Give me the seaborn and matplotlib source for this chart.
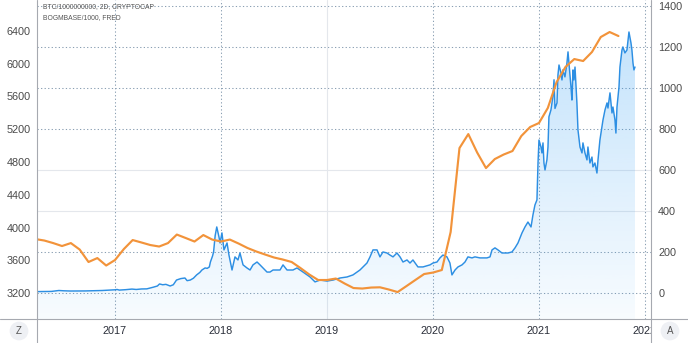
import numpy as np
import matplotlib
matplotlib.use("Agg")
import matplotlib.pyplot as plt
import seaborn as sns
from matplotlib.lines import Line2D
from matplotlib.transforms import Bbox, TransformedBbox, blended_transform_factory

sns.set_theme(style="white")
plt.rcParams["font.family"] = ["Liberation Sans", "DejaVu Sans"]

# ---------------------------------------------------------------------------
# Data
# ---------------------------------------------------------------------------
# FRED monetary base (BOGMBASE / 1000, billions USD), monthly from April 2016
base_first_year = 2016.25
base_values = [
    3859, 3841, 3810, 3774, 3810, 3731, 3579, 3627, 3536, 3603, 3737, 3847,
    3817, 3786, 3768, 3810, 3914, 3872, 3829, 3908, 3853, 3829, 3853, 3804,
    3750, 3707, 3670, 3634, 3609, 3579, 3505, 3426, 3359, 3359, 3377, 3316,
    3261, 3255, 3267, 3270, 3243, 3212, 3285, 3359, 3432, 3450, 3481, 3945,
    4970, 5141, 4916, 4726, 4836, 4891, 4934, 5117, 5227, 5276, 5459, 5777,
    5960, 6057, 6033, 6143, 6326, 6387, 6338,
]

# Bitcoin market cap (CRYPTOCAP / 1e9, billions USD), sampled as decimal years
btc_year = [
    2016.264, 2016.33, 2016.40, 2016.45, 2016.47, 2016.52, 2016.58, 2016.65,
    2016.72, 2016.80, 2016.88, 2016.95, 2017.00, 2017.02, 2017.04, 2017.10,
    2017.16, 2017.20, 2017.25, 2017.30, 2017.36, 2017.40, 2017.42, 2017.45,
    2017.48, 2017.52, 2017.55, 2017.58, 2017.62, 2017.66, 2017.68, 2017.71,
    2017.74, 2017.77, 2017.80, 2017.82, 2017.85, 2017.87, 2017.89, 2017.90,
    2017.92, 2017.93, 2017.945, 2017.96, 2017.981, 2017.991, 2018.009, 2018.028,
    2018.057, 2018.075, 2018.104, 2018.132, 2018.160, 2018.179, 2018.208, 2018.245,
    2018.274, 2018.302, 2018.340, 2018.368, 2018.396, 2018.434, 2018.462, 2018.491,
    2018.557, 2018.585, 2018.623, 2018.679, 2018.717, 2018.774, 2018.840, 2018.887,
    2018.934, 2019.000, 2019.057, 2019.123, 2019.189, 2019.245, 2019.311, 2019.377,
    2019.406, 2019.434, 2019.472, 2019.500, 2019.528, 2019.566, 2019.594, 2019.623,
    2019.660, 2019.689, 2019.717, 2019.755, 2019.783, 2019.811, 2019.858, 2019.906,
    2019.972, 2020.000, 2020.038, 2020.066, 2020.094, 2020.132, 2020.160, 2020.179,
    2020.208, 2020.236, 2020.274, 2020.302, 2020.330, 2020.368, 2020.396, 2020.443,
    2020.509, 2020.538, 2020.557, 2020.585, 2020.613, 2020.651, 2020.679, 2020.708,
    2020.745, 2020.774, 2020.802, 2020.840, 2020.868, 2020.896, 2020.925, 2020.943,
    2020.962, 2020.981, 2020.991, 2021.000, 2021.019, 2021.028, 2021.038, 2021.047,
    2021.057, 2021.075, 2021.085, 2021.094, 2021.113, 2021.132, 2021.142, 2021.151,
    2021.170, 2021.179, 2021.189, 2021.208, 2021.217, 2021.226, 2021.245, 2021.264,
    2021.274, 2021.283, 2021.302, 2021.311, 2021.321, 2021.330, 2021.340, 2021.358,
    2021.368, 2021.387, 2021.406, 2021.415, 2021.434, 2021.453, 2021.462, 2021.481,
    2021.500, 2021.509, 2021.528, 2021.547, 2021.557, 2021.575, 2021.594, 2021.604,
    2021.623, 2021.642, 2021.651, 2021.670, 2021.689, 2021.698, 2021.717, 2021.726,
    2021.736, 2021.755, 2021.764, 2021.783, 2021.792, 2021.811, 2021.830, 2021.840,
    2021.849, 2021.868, 2021.877, 2021.887, 2021.896, 2021.906,
]
btc_cap = [
    6.6, 6.8, 7.5, 10.5, 12.0, 10.5, 9.5, 9.8,
    9.9, 11.0, 12.0, 14.0, 15.5, 17.0, 14.0, 16.0,
    19.0, 17.0, 19.5, 20.0, 28, 34, 44, 40,
    42, 34, 40, 63, 70, 73, 60, 63,
    72, 88, 100, 112, 122, 120, 127, 151,
    180, 200, 280, 322, 273, 244, 293, 210,
    244, 185, 112, 176, 161, 195, 137, 122,
    112, 137, 151, 137, 122, 102, 102, 112,
    112, 137, 112, 112, 122, 102, 78, 54,
    63, 58, 63, 73, 78, 88, 112, 146,
    176, 210, 210, 176, 200, 195, 185, 176,
    195, 176, 151, 161, 146, 161, 127, 127,
    137, 146, 151, 171, 185, 176, 146, 88,
    112, 127, 137, 151, 176, 171, 176, 171,
    171, 176, 210, 220, 210, 195, 195, 195,
    200, 220, 244, 293, 322, 346, 322, 380,
    429, 454, 634, 746, 712, 683, 732, 634,
    600, 649, 712, 859, 893, 960, 1040, 900,
    927, 1063, 1112, 1073, 1039, 1088, 1054, 1122,
    1176, 1122, 1005, 941, 1088, 1039, 1102, 927,
    795, 712, 683, 732, 683, 649, 712, 634,
    663, 615, 634, 585, 649, 746, 810, 844,
    893, 927, 902, 976, 878, 907, 844, 780,
    907, 1005, 1102, 1185, 1200, 1171, 1185, 1234,
    1273, 1220, 1185, 1122, 1088, 1102,
]

left_ticks = [3200, 3600, 4000, 4400, 4800, 5200, 5600, 6000, 6400]
right_ticks = [0, 200, 400, 600, 800, 1000, 1200, 1400]
year_ticks = [2017, 2018, 2019, 2020, 2021, 2022]
series_labels = ["BTC/1000000000, 2D, CRYPTOCAP", "BOGMBASE/1000, FRED"]

base_year = base_first_year + np.arange(len(base_values)) / 12.0

# ---------------------------------------------------------------------------
# Figure layout: price scales on both sides, time scale underneath
# ---------------------------------------------------------------------------
W, H = 688, 343
fig = plt.figure(figsize=(W / 100, H / 100), dpi=100)
fig.patch.set_facecolor("white")

pane_l, pane_r, pane_b = 37, 651, 24          # pixels
ax = fig.add_axes([pane_l / W, pane_b / H, (pane_r - pane_l) / W, 1 - pane_b / H])
ax2 = ax.twinx()

x_min, x_max = 2016.264, 2022.057
btc_lo, btc_hi = -127, 1429
base_lo, base_hi = 2883, 6778

BLUE = "#2d8fe3"
ORANGE = "#f2933a"
TEXT = "#4a4a4a"

# grid: dotted for most levels, faint solid for a few
dotted = dict(color="#8a9fb3", lw=0.75, ls=(0, (1.2, 2.2)), zorder=0.5)
faint = dict(color="#e4e7ec", lw=0.8, ls="-", zorder=0.5)
for v in right_ticks:
    ax.axhline(v, **(faint if v in (400, 600) else dotted))
for yr in year_ticks:
    ax.axvline(yr, **(faint if yr == 2019 else dotted))

# BTC area with a vertical gradient fill
poly = ax.fill_between(btc_year, btc_cap, btc_lo, color="none", lw=0)
alpha = np.linspace(0.035, 0.27, 256)
grad = np.zeros((256, 1, 4))
grad[..., 0] = 33 / 255
grad[..., 1] = 150 / 255
grad[..., 2] = 243 / 255
grad[..., 3] = alpha[:, None]
img = ax.imshow(grad, extent=[x_min, x_max, btc_lo, 1290], origin="lower",
                aspect="auto", interpolation="bicubic", zorder=1)
img.set_clip_path(poly.get_paths()[0], ax.transData)

sns.lineplot(x=btc_year, y=btc_cap, ax=ax, color=BLUE, lw=1.05,
             estimator=None, sort=False, zorder=3)
sns.lineplot(x=base_year, y=base_values, ax=ax2, color=ORANGE, lw=1.55,
             estimator=None, sort=False, zorder=3)

ax.set_xlim(x_min, x_max)
ax.set_ylim(btc_lo, btc_hi)
ax2.set_ylim(base_lo, base_hi)

# BTC scale on the right, monetary base scale on the left
ax.yaxis.tick_right()
ax.set_yticks(right_ticks)
ax.set_yticklabels([str(v) for v in right_ticks])
ax.tick_params(axis="y", length=0, pad=5.2, labelsize=7.8, labelcolor=TEXT)
ax2.yaxis.tick_left()
ax2.set_yticks(left_ticks)
ax2.set_yticklabels([str(v) for v in left_ticks])
ax2.tick_params(axis="y", length=0, pad=4.4, labelsize=7.8, labelcolor=TEXT)
ax.set_xticks([])
for a in (ax, ax2):
    a.set_xlabel("")
    a.set_ylabel("")
    for s in a.spines.values():
        s.set_visible(False)
    a.grid(False)

# year labels along the time scale, cut off where the right scale begins
clip = TransformedBbox(Bbox.from_extents(0, 0, pane_r / W, 1), fig.transFigure)
tr = blended_transform_factory(ax.transData, ax.transAxes)
for yr in year_ticks:
    t = ax.text(yr, -12 / (H - pane_b), str(yr), transform=tr, ha="center",
                va="center", fontsize=7.8, color="#2a2e39", clip_on=True)
    t.set_clip_box(clip)

# pane separators
sep = dict(color="#a6a9b0", lw=0.8, transform=fig.transFigure)
fig.add_artist(Line2D([0, 1], [pane_b / H, pane_b / H], **sep))
fig.add_artist(Line2D([pane_l / W, pane_l / W], [0, 1], **sep))
fig.add_artist(Line2D([pane_r / W, pane_r / W], [0, 1], **sep))

# series titles in the top-left corner
for i, lab in enumerate(series_labels):
    fig.text(43 / W, 1 - (7 + 10.5 * i) / H, lab, fontsize=4.9, color="#555555",
             ha="left", va="center")

# scale buttons in the bottom corners
for x_px, letter in ((19, "Z"), (670, "A")):
    fig.text(x_px / W, 1 - 331 / H, letter, fontsize=7, color="#555555",
             ha="center", va="center",
             bbox=dict(boxstyle="circle,pad=0.45", fc="#eef0f4", ec="none"))

fig.savefig("out.png", dpi=100, facecolor="white")
